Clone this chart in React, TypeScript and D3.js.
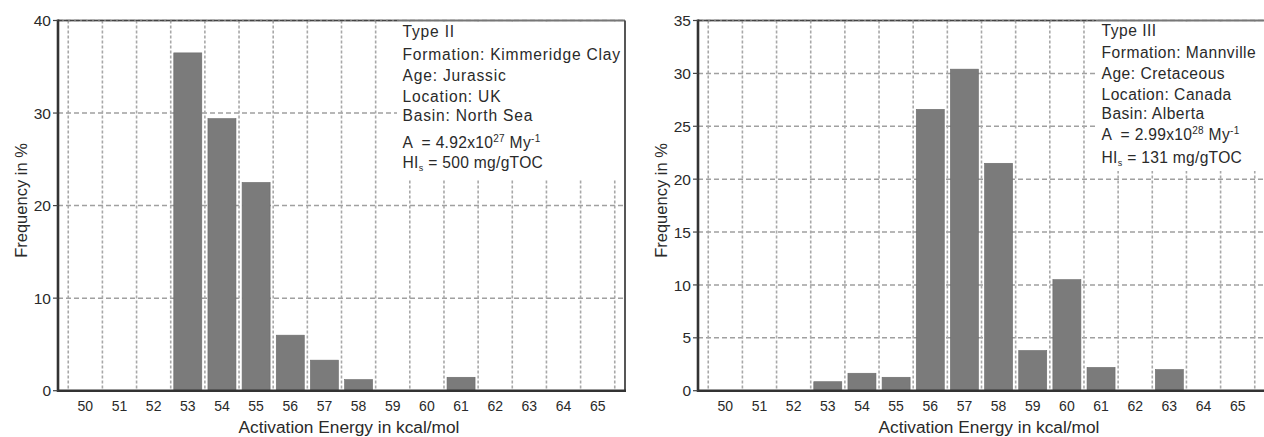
import React from "react";
import * as d3 from "d3";

const energies = [50, 51, 52, 53, 54, 55, 56, 57, 58, 59, 60, 61, 62, 63, 64, 65];
const typeIIFreq = [0, 0, 0, 36.5, 29.4, 22.5, 6.0, 3.3, 1.2, 0, 0, 1.45, 0, 0, 0, 0];
const typeIIIFreq = [0, 0, 0, 0.85, 1.65, 1.27, 26.6, 30.4, 21.5, 3.8, 10.5, 2.2, 0, 2.0, 0, 0];
const typeIITicks = [0, 10, 20, 30, 40];
const typeIIITicks = [0, 5, 10, 15, 20, 25, 30, 35];
const typeIIInfo = ["Type II", "Formation: Kimmeridge Clay", "Age: Jurassic", "Location: UK", "Basin: North Sea"];
const typeIIIInfo = ["Type III", "Formation: Mannville", "Age: Cretaceous", "Location: Canada", "Basin: Alberta"];
const typeIIA = { mant: "4.92x10", exp: "27" };
const typeIIIA = { mant: "2.99x10", exp: "28" };
const typeIIHI = "500";
const typeIIIHI = "131";

const FONT = "'Liberation Sans', Arial, Helvetica, sans-serif";
const TXT = "#2a2a2a";

type PanelProps = {
  x0: number;
  freq: number[];
  ticks: number[];
  yMax: number;
  info: string[];
  aVal: { mant: string; exp: string };
  hi: string;
  boxX: number;
  boxBottom: number;
  baselines: number[];
  ls: number;
};

function Panel({ x0, freq, ticks, yMax, info, aVal, hi, boxX, boxBottom, baselines, ls }: PanelProps) {
  const top = 20.5;
  const bottom = 390.7;
  const width = 567;
  const x = d3.scaleLinear().domain([49.2, 65.8]).range([x0, x0 + width]);
  const y = d3.scaleLinear().domain([0, yMax]).range([bottom, top]);
  const unit = x(1) - x(0);
  const barW = unit * 0.82;
  const gridX = d3.range(49.5, 65.6, 1);
  const right = x0 + width;
  const textX = x0 + boxX + 5.5;

  return (
    <g>
      {ticks.filter((t) => t > 0).map((t) => (
        <line key={"h" + t} x1={x0} x2={right} y1={y(t)} y2={y(t)} stroke="#a0a0a0" strokeWidth={1.5} strokeDasharray="5,3" />
      ))}
      {gridX.map((g) => (
        <line key={"v" + g} x1={x(g)} x2={x(g)} y1={top} y2={bottom} stroke="#a8a8a8" strokeWidth={1.6} strokeDasharray="3,2" />
      ))}
      {energies.map((e, i) =>
        freq[i] > 0 ? (
          <rect key={"b" + e} x={x(e) - barW / 2} y={y(freq[i])} width={barW} height={bottom - y(freq[i])} fill="#7b7b7b" stroke="#6a6a6a" strokeWidth={0.6} />
        ) : null
      )}
      <rect x={x0 + boxX} y={top + 1} width={right - (x0 + boxX) - 1} height={boxBottom - top} fill="#fff" />
      <line x1={x0} x2={right} y1={top} y2={top} stroke="#777" strokeWidth={1.8} />
      <line x1={x0} x2={x0 + boxX} y1={top} y2={top} stroke="#444" strokeWidth={1.2} strokeDasharray="4,2" />
      <line x1={right} x2={right} y1={top} y2={bottom} stroke="#444" strokeWidth={1.8} />
      <line x1={x0} x2={x0} y1={top - 1} y2={bottom + 1.2} stroke="#333" strokeWidth={2.6} />
      <line x1={x0 - 1} x2={right + 1} y1={bottom} y2={bottom} stroke="#333" strokeWidth={2.6} />
      {ticks.map((t) => (
        <g key={"yt" + t}>
          <line x1={x0 - 5} x2={x0} y1={y(t)} y2={y(t)} stroke="#444" strokeWidth={1.2} />
          <text x={x0 - 7} y={y(t)} dy="0.36em" textAnchor="end" fontSize={15.5} fontFamily={FONT} fill={TXT}>
            {t}
          </text>
        </g>
      ))}
      {energies.map((e) => (
        <text key={"xt" + e} x={x(e)} y={411} textAnchor="middle" fontSize={14} fontFamily={FONT} fill={TXT}>
          {e}
        </text>
      ))}
      <text x={x0 + 291} y={433} textAnchor="middle" fontSize={17.3} fontFamily={FONT} fill={TXT}>
        Activation Energy in kcal/mol
      </text>
      <text transform={`translate(${x0 - 31},200.5) rotate(-90)`} textAnchor="middle" fontSize={16.5} fontFamily={FONT} fill={TXT}>
        Frequency in %
      </text>
      {info.map((s, i) => (
        <text key={"in" + i} x={textX} y={baselines[i]} fontSize={15.6} letterSpacing={ls} fontFamily={FONT} fill={TXT}>
          {s}
        </text>
      ))}
      <text x={textX} y={baselines[5]} fontSize={15.6} letterSpacing={0.3} fontFamily={FONT} fill={TXT} style={{ whiteSpace: "pre" }}>
        {"A  = " + aVal.mant}
        <tspan fontSize={10} dy={-6}>{aVal.exp}</tspan>
        <tspan dy={6}>{" My"}</tspan>
        <tspan fontSize={10} dy={-6}>{"-1"}</tspan>
      </text>
      <text x={textX} y={baselines[6]} fontSize={15.6} letterSpacing={0.3} fontFamily={FONT} fill={TXT} style={{ whiteSpace: "pre" }}>
        {"HI"}
        <tspan fontSize={9} dy={3}>{"s"}</tspan>
        <tspan dy={-3}>{" = " + hi + " mg/gTOC"}</tspan>
      </text>
    </g>
  );
}

export default function App() {
  return (
    <div style={{ position: "absolute", left: 0, top: 0 }}>
      <svg width={1264} height={437} style={{ display: "block", background: "#fff" }}>
        <Panel
          x0={58}
          freq={typeIIFreq}
          ticks={typeIITicks}
          yMax={40}
          info={typeIIInfo}
          aVal={typeIIA}
          hi={typeIIHI}
          boxX={339}
          boxBottom={178}
          baselines={[37, 60, 80.5, 101.5, 121, 148, 168]}
          ls={0.8}
        />
        <Panel
          x0={698}
          freq={typeIIIFreq}
          ticks={typeIIITicks}
          yMax={35}
          info={typeIIIInfo}
          aVal={typeIIIA}
          hi={typeIIIHI}
          boxX={398}
          boxBottom={170}
          baselines={[36, 57.5, 78.5, 99.5, 119, 140, 162.5]}
          ls={0.5}
        />
      </svg>
    </div>
  );
}
